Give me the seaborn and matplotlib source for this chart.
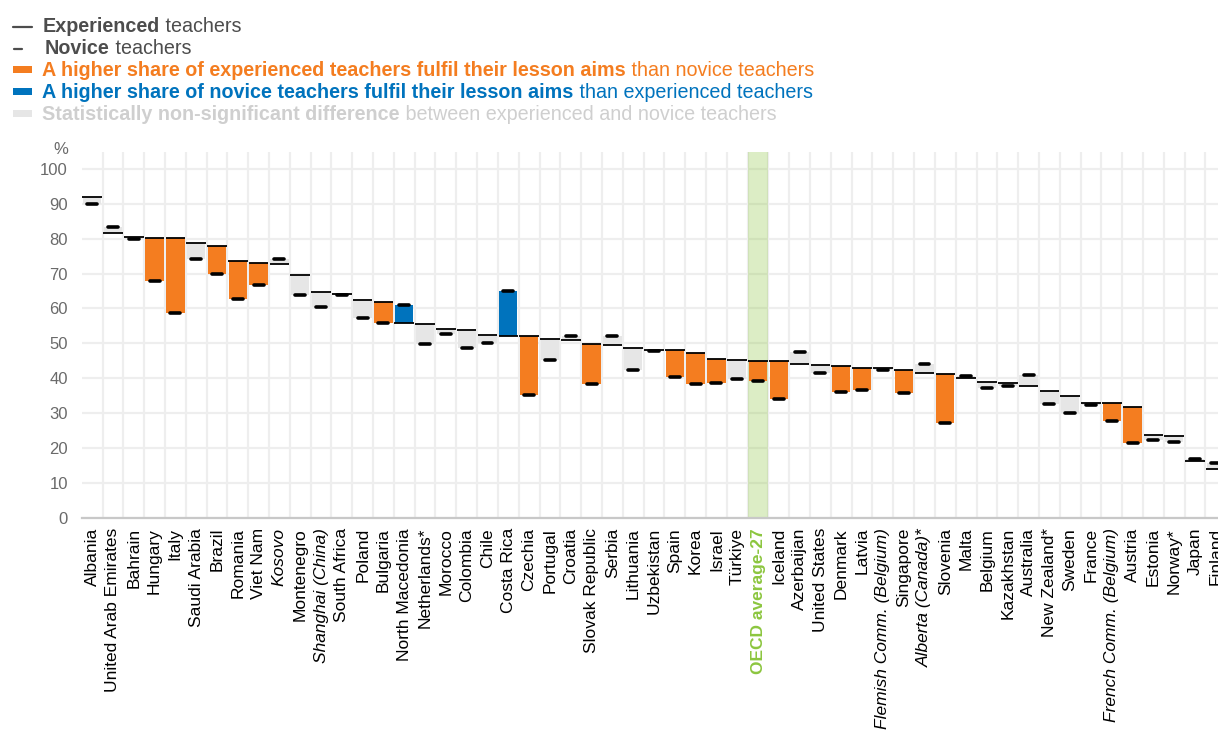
import numpy as np
import pandas as pd
import matplotlib
matplotlib.use("Agg")
import matplotlib.pyplot as plt
from matplotlib.lines import Line2D
from matplotlib.patches import Rectangle
import seaborn as sns

countries = ["Albania", "United Arab Emirates", "Bahrain", "Hungary", "Italy", "Saudi Arabia",
             "Brazil", "Romania", "Viet Nam", "Kosovo", "Montenegro", "Shanghai (China)",
             "South Africa", "Poland", "Bulgaria", "North Macedonia", "Netherlands*", "Morocco",
             "Colombia", "Chile", "Costa Rica", "Czechia", "Portugal", "Croatia",
             "Slovak Republic", "Serbia", "Lithuania", "Uzbekistan", "Spain", "Korea", "Israel",
             "Türkiye", "OECD average-27", "Iceland", "Azerbaijan", "United States", "Denmark",
             "Latvia", "Flemish Comm. (Belgium)", "Singapore", "Alberta (Canada)*", "Slovenia",
             "Malta", "Belgium", "Kazakhstan", "Australia", "New Zealand*", "Sweden", "France",
             "French Comm. (Belgium)", "Austria", "Estonia", "Norway*", "Japan", "Finland"]

experienced = [91.9, 81.6, 80.5, 80.3, 80.1, 78.8, 77.9, 73.5, 73.0, 72.8, 69.6, 64.6,
               64.2, 62.3, 61.8, 55.9, 55.4, 54.1, 53.7, 52.4, 52.2, 52.2, 51.1, 51.0,
               49.7, 49.6, 48.5, 48.2, 48.2, 47.1, 45.6, 45.2, 45.0, 44.8, 44.1, 43.7, 43.6,
               42.9, 42.9, 42.4, 41.5, 41.1, 40.1, 39.0, 38.6, 37.8, 36.2, 34.9, 32.9,
               32.9, 31.8, 23.8, 23.3, 16.1, 14.0]

novice = [89.9, 83.3, 79.8, 68.0, 58.8, 74.2, 69.9, 62.7, 66.6, 74.1, 63.8, 60.5,
          63.8, 57.3, 55.8, 61.1, 49.7, 52.7, 48.7, 50.2, 65.1, 35.2, 45.2, 52.2,
          38.3, 52.2, 42.2, 47.8, 40.2, 38.3, 38.5, 39.8, 39.2, 34.1, 47.6, 41.6, 36.1,
          36.7, 42.4, 35.8, 44.0, 27.2, 40.6, 37.3, 37.8, 40.9, 32.6, 30.1, 32.3,
          27.6, 21.4, 22.3, 21.7, 16.7, 15.6]

# E = experienced higher (significant), N = novice higher (significant), S = non-significant
significance = ["S", "S", "S", "E", "E", "S", "E", "E", "E", "S", "S", "S",
                "S", "S", "E", "N", "S", "S", "S", "S", "N", "E", "S", "S",
                "E", "S", "S", "S", "E", "E", "E", "S", "E", "E", "S", "S", "E",
                "E", "S", "E", "S", "E", "S", "S", "S", "S", "S", "S", "S",
                "E", "E", "S", "S", "S", "S"]

italic_labels = ["Kosovo", "Shanghai (China)", "Flemish Comm. (Belgium)",
                 "Alberta (Canada)*", "French Comm. (Belgium)"]
highlight = "OECD average-27"
yticks = [0, 10, 20, 30, 40, 50, 60, 70, 80, 90, 100]

ORANGE = "#F47D20"
BLUE = "#0073BD"
LGRAY = "#E6E6E6"
GREEN = "#8CC63F"
DARK = "#4D4D4D"
sig_colors = {"E": ORANGE, "N": BLUE, "S": LGRAY}

df = pd.DataFrame({"country": countries, "exp": experienced, "nov": novice, "sig": significance})
df["low"] = df[["exp", "nov"]].min(axis=1)
df["span"] = (df["exp"] - df["nov"]).abs()

sns.set_theme(style="white")
plt.rcParams["font.family"] = ["Liberation Sans", "DejaVu Sans"]

W, H = 1218, 731
fig = plt.figure(figsize=(W / 100, H / 100), dpi=100)
ax_left = 81.7 / W
y_bot_px, y_top_px = 517.5, 151.5
ax = fig.add_axes([ax_left, 1 - y_bot_px / H, 1 - ax_left, (y_bot_px - y_top_px) / H])

n = len(countries)
# floating bars
sns.barplot(data=df, x="country", y="span", bottom=df["low"].values, color=LGRAY,
            width=0.88, errorbar=None, ax=ax, zorder=3, linewidth=0, order=countries)
for patch, s in zip(ax.patches, df["sig"]):
    patch.set_facecolor(sig_colors[s])
    patch.set_edgecolor("none")

xs = np.arange(n)
ax.hlines(df["exp"], xs - 0.47, xs + 0.47, color="black", lw=1.3, zorder=4)
ax.hlines(df["nov"], xs - 0.24, xs + 0.24, color="black", lw=2.6, zorder=5,
          capstyle="round")

# highlight band
hi = countries.index(highlight)
ax.axvspan(hi - 0.5, hi + 0.5, color=GREEN, alpha=0.3, lw=0, zorder=2)

ax.set_xlim(-0.5, (W - 81.7) / 20.81 - 0.5)
ax.set_ylim(0, (y_bot_px - y_top_px) / 3.485)
ax.set_yticks(yticks)
ax.set_xticks(xs)
ax.set_xticks(xs[:-1] + 0.5, minor=True)
ax.grid(False)
ax.yaxis.grid(True, color="#EEEEEE", lw=1.6, zorder=0)
ax.xaxis.grid(True, which="minor", color="#EEEEEE", lw=1.6, zorder=0)
ax.set_axisbelow(True)
for sp in ["left", "top", "right"]:
    ax.spines[sp].set_visible(False)
ax.spines["bottom"].set_color("#C8C8C8")
ax.spines["bottom"].set_linewidth(1.6)
ax.set_xlabel("")
ax.set_ylabel("")
ax.tick_params(axis="y", length=0, pad=10, labelsize=12, labelcolor="#6A6A6A")
ax.tick_params(axis="x", which="both", length=0, pad=7.5)
ax.set_xticklabels(countries, rotation=90, fontsize=12.5, color="black")
for lab in ax.get_xticklabels():
    t = lab.get_text()
    if t in italic_labels:
        lab.set_fontstyle("italic")
    if t == highlight:
        lab.set_color(GREEN)
        lab.set_fontweight("bold")

fig.text(68 / W, 1 - 149 / H, "%", ha="right", va="center", fontsize=12, color="#6A6A6A")

# legend block
fig.canvas.draw()
r = fig.canvas.get_renderer()
fs = 14.2
rows = [
    (25, "line_long", DARK, "Experienced", " teachers", DARK, 43),
    (47, "line_short", DARK, "Novice", " teachers", DARK, 45),
    (69, "rect", ORANGE, "A higher share of experienced teachers fulfil their lesson aims",
     " than novice teachers", ORANGE, 42.5),
    (91, "rect", BLUE, "A higher share of novice teachers fulfil their lesson aims",
     " than experienced teachers", BLUE, 42.5),
    (113, "rect", LGRAY, "Statistically non-significant difference",
     " between experienced and novice teachers", "#CFCFCF", 42.5),
]
for ypx, kind, mcol, bold, reg, tcol, xpx in rows:
    yf = 1 - ypx / H
    if kind == "line_long":
        fig.add_artist(Line2D([13 / W, 32 / W], [1 - (ypx + 1.5) / H] * 2, color=mcol, lw=1.6))
    elif kind == "line_short":
        fig.add_artist(Line2D([14 / W, 22 / W], [1 - (ypx + 1.5) / H] * 2, color=mcol, lw=1.6))
    else:
        fig.add_artist(Rectangle((13 / W, 1 - (ypx + 4) / H), 19 / W, 7.5 / H,
                                 color=mcol, lw=0, transform=fig.transFigure))
    t1 = fig.text(xpx / W, yf, bold, ha="left", va="center_baseline", fontsize=fs,
                  fontweight="bold", color=tcol)
    bb = t1.get_window_extent(r)
    fig.text(bb.x1 / W, yf, reg, ha="left", va="center_baseline", fontsize=fs, color=tcol)

fig.savefig("out.png", dpi=100)
